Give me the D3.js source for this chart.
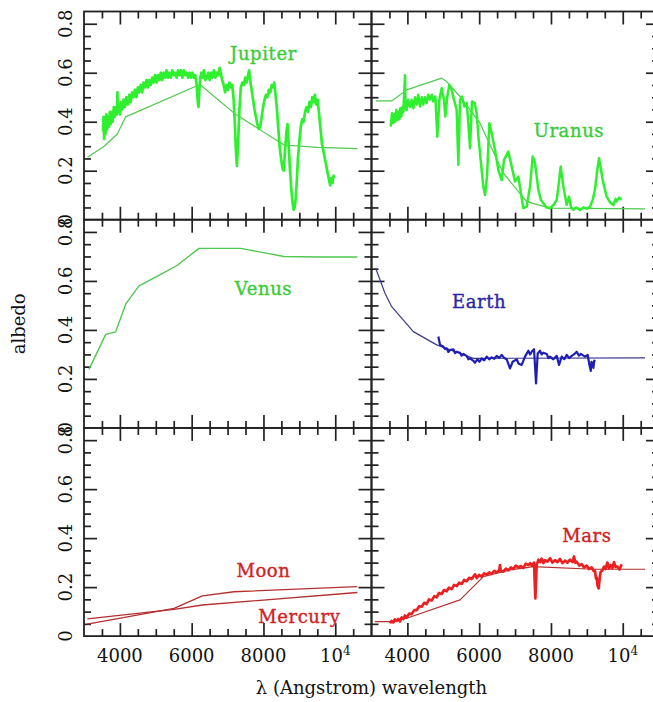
<!DOCTYPE html>
<html>
<head>
<meta charset="utf-8">
<script src="https://cdn.jsdelivr.net/npm/d3@7/dist/d3.min.js"></script>
<style>
body { margin: 0; background: #fff; }
svg text { font-family: "DejaVu Serif", serif; }
</style>
</head>
<body>
<script>
/* Spectra: [wavelength (Angstrom), albedo] */

var JUPITER_OBS = [[3530,0.36],[3545,0.42],[3560,0.33],[3580,0.41],[3600,0.35],[3620,0.43],[3645,0.37],[3670,0.42],[3695,0.38],[3720,0.44],[3745,0.39],[3770,0.44],[3800,0.40],[3830,0.46],[3860,0.42],[3890,0.46],[3915,0.43],[3930,0.52],[3945,0.44],[3970,0.47],[4000,0.43],[4030,0.48],[4060,0.45],[4100,0.49],[4140,0.46],[4180,0.50],[4220,0.47],[4260,0.51],[4300,0.48],[4340,0.52],[4380,0.50],[4420,0.53],[4460,0.50],[4500,0.54],[4540,0.52],[4580,0.55],[4620,0.52],[4660,0.56],[4700,0.54],[4740,0.57],[4780,0.54],[4820,0.57],[4860,0.55],[4900,0.58],[4940,0.56],[4980,0.59],[5020,0.56],[5060,0.59],[5100,0.57],[5140,0.60],[5180,0.57],[5220,0.60],[5260,0.58],[5300,0.61],[5340,0.58],[5380,0.60],[5420,0.58],[5460,0.61],[5500,0.59],[5540,0.60],[5580,0.58],[5620,0.61],[5660,0.59],[5700,0.61],[5740,0.58],[5780,0.61],[5820,0.59],[5860,0.60],[5900,0.58],[5940,0.60],[5980,0.58],[6020,0.60],[6060,0.58],[6100,0.59],[6140,0.55],[6170,0.48],[6190,0.46],[6210,0.52],[6240,0.58],[6270,0.60],[6300,0.58],[6340,0.61],[6380,0.57],[6420,0.58],[6460,0.60],[6500,0.57],[6540,0.60],[6580,0.58],[6620,0.61],[6660,0.58],[6700,0.60],[6740,0.59],[6780,0.62],[6810,0.60],[6850,0.57],[6890,0.55],[6930,0.52],[6970,0.55],[7010,0.53],[7050,0.56],[7090,0.54],[7130,0.55],[7170,0.49],[7200,0.40],[7230,0.29],[7260,0.22],[7290,0.30],[7330,0.45],[7370,0.54],[7410,0.56],[7450,0.55],[7490,0.58],[7530,0.56],[7570,0.59],[7600,0.61],[7630,0.57],[7670,0.53],[7710,0.49],[7750,0.45],[7790,0.42],[7830,0.39],[7870,0.37],[7910,0.38],[7950,0.42],[7990,0.46],[8030,0.49],[8070,0.51],[8110,0.50],[8150,0.53],[8190,0.52],[8230,0.55],[8270,0.54],[8300,0.56],[8330,0.52],[8370,0.46],[8410,0.38],[8450,0.30],[8490,0.25],[8530,0.21],[8565,0.20],[8600,0.28],[8640,0.36],[8670,0.39],[8700,0.31],[8740,0.20],[8780,0.12],[8810,0.07],[8840,0.04],[8870,0.05],[8900,0.09],[8930,0.16],[8960,0.25],[9000,0.32],[9040,0.38],[9080,0.41],[9120,0.40],[9160,0.44],[9200,0.46],[9240,0.44],[9280,0.48],[9320,0.46],[9360,0.50],[9400,0.48],[9430,0.51],[9470,0.47],[9510,0.49],[9550,0.43],[9590,0.37],[9630,0.31],[9670,0.28],[9710,0.25],[9750,0.22],[9790,0.19],[9830,0.16],[9860,0.14],[9890,0.17],[9920,0.15],[9950,0.18],[9970,0.17]];
var JUPITER_MODEL = [[3100,0.255],[3560,0.30],[3930,0.35],[4160,0.42],[6230,0.552],[7180,0.435],[8570,0.305],[9500,0.295],[10620,0.29]];

var URANUS_OBS = [[3534,0.38],[3571,0.435],[3608,0.394],[3640,0.43],[3664,0.40],[3690,0.448],[3720,0.408],[3750,0.44],[3776,0.41],[3800,0.455],[3831,0.421],[3860,0.46],[3887,0.44],[3933,0.59],[3950,0.45],[3980,0.448],[4020,0.49],[4073,0.46],[4120,0.49],[4166,0.455],[4210,0.50],[4259,0.47],[4300,0.51],[4351,0.462],[4400,0.50],[4444,0.47],[4490,0.50],[4537,0.476],[4580,0.51],[4630,0.49],[4680,0.51],[4723,0.483],[4779,0.503],[4834,0.339],[4890,0.489],[4955,0.537],[5020,0.489],[5057,0.421],[5113,0.503],[5169,0.551],[5234,0.53],[5299,0.489],[5373,0.448],[5420,0.224],[5466,0.489],[5522,0.503],[5587,0.462],[5652,0.476],[5698,0.394],[5745,0.292],[5800,0.483],[5875,0.476],[5930,0.435],[5986,0.326],[6060,0.217],[6116,0.135],[6163,0.101],[6218,0.176],[6283,0.394],[6348,0.353],[6441,0.285],[6534,0.203],[6627,0.162],[6692,0.244],[6813,0.278],[6906,0.217],[6999,0.156],[7091,0.176],[7156,0.115],[7231,0.047],[7324,0.053],[7416,0.135],[7491,0.258],[7556,0.231],[7649,0.122],[7720,0.08],[7788,0.067],[7880,0.05],[7974,0.047],[8070,0.06],[8160,0.081],[8220,0.15],[8271,0.217],[8345,0.135],[8438,0.06],[8503,0.094],[8560,0.05],[8623,0.04],[8700,0.05],[8809,0.04],[8900,0.05],[9000,0.045],[9087,0.053],[9160,0.08],[9226,0.122],[9280,0.19],[9338,0.251],[9390,0.21],[9440,0.162],[9551,0.094],[9650,0.07],[9737,0.06],[9800,0.085],[9830,0.075],[9900,0.09],[9969,0.083]];
var URANUS_MODEL = [[3125,0.485],[3562,0.485],[3980,0.53],[4955,0.578],[5094,0.564],[5466,0.503],[6023,0.394],[6673,0.19],[7323,0.074],[7974,0.047],[10621,0.044]];

var VENUS_MODEL = [[3139,0.239],[3604,0.382],[3882,0.392],[4161,0.505],[4533,0.58],[5229,0.634],[5601,0.664],[6204,0.733],[7365,0.733],[8573,0.70],[9502,0.698],[10616,0.698]];

var EARTH_OBS = [[4862,0.373],[4909,0.339],[5002,0.332],[5050,0.322],[5094,0.325],[5140,0.31],[5187,0.318],[5280,0.321],[5330,0.305],[5373,0.311],[5466,0.307],[5510,0.295],[5559,0.302],[5652,0.294],[5700,0.28],[5745,0.284],[5838,0.274],[5884,0.266],[5949,0.28],[6010,0.27],[6070,0.284],[6140,0.276],[6209,0.291],[6280,0.28],[6348,0.288],[6420,0.282],[6488,0.294],[6560,0.286],[6627,0.298],[6700,0.285],[6766,0.28],[6859,0.243],[6934,0.27],[7045,0.28],[7100,0.262],[7184,0.257],[7277,0.291],[7370,0.315],[7420,0.30],[7463,0.311],[7528,0.321],[7584,0.182],[7630,0.304],[7695,0.315],[7740,0.30],[7788,0.307],[7881,0.302],[7930,0.285],[7974,0.291],[8067,0.28],[8160,0.294],[8225,0.257],[8299,0.291],[8370,0.28],[8439,0.298],[8510,0.285],[8578,0.294],[8640,0.30],[8717,0.311],[8780,0.295],[8829,0.302],[8950,0.291],[9023,0.298],[9072,0.257],[9109,0.233],[9130,0.27],[9155,0.264],[9183,0.245],[9205,0.275],[9230,0.27]];
var EARTH_MODEL = [[3116,0.652],[3376,0.55],[3562,0.495],[4166,0.393],[4816,0.339],[5838,0.284],[10621,0.286]];

var MOON_MODEL = [[3093,0.049],[5508,0.113],[6297,0.164],[7180,0.181],[10616,0.202]];
var MERCURY_MODEL = [[3093,0.07],[5508,0.109],[6297,0.127],[10616,0.178]];

var MARS_OBS = [[3515,0.052],[3560,0.062],[3608,0.056],[3650,0.068],[3701,0.062],[3750,0.07],[3794,0.06],[3840,0.076],[3887,0.07],[3930,0.084],[3980,0.076],[4050,0.092],[4119,0.09],[4190,0.106],[4258,0.106],[4330,0.122],[4398,0.12],[4470,0.136],[4537,0.131],[4600,0.15],[4676,0.145],[4750,0.163],[4816,0.158],[4880,0.176],[4955,0.172],[5020,0.188],[5094,0.183],[5160,0.198],[5234,0.192],[5300,0.209],[5373,0.204],[5440,0.218],[5512,0.213],[5580,0.229],[5652,0.224],[5720,0.238],[5791,0.233],[5884,0.252],[5930,0.237],[6000,0.25],[6070,0.243],[6140,0.256],[6209,0.251],[6280,0.26],[6348,0.254],[6420,0.266],[6488,0.26],[6560,0.27],[6580,0.29],[6600,0.268],[6674,0.263],[6740,0.275],[6813,0.268],[6880,0.28],[6952,0.274],[7020,0.288],[7091,0.281],[7160,0.286],[7231,0.278],[7300,0.296],[7370,0.29],[7420,0.298],[7463,0.288],[7528,0.3],[7565,0.154],[7602,0.29],[7650,0.312],[7695,0.302],[7740,0.316],[7790,0.298],[7834,0.31],[7900,0.304],[7974,0.318],[8040,0.3],[8113,0.31],[8180,0.302],[8252,0.315],[8320,0.298],[8391,0.308],[8460,0.3],[8530,0.312],[8600,0.302],[8641,0.325],[8680,0.3],[8716,0.304],[8790,0.288],[8856,0.294],[8920,0.28],[8995,0.288],[9060,0.274],[9134,0.28],[9190,0.265],[9227,0.266],[9255,0.235],[9274,0.24],[9300,0.205],[9330,0.195],[9360,0.24],[9385,0.262],[9430,0.268],[9478,0.284],[9520,0.274],[9571,0.3],[9620,0.276],[9664,0.29],[9710,0.278],[9757,0.302],[9800,0.282],[9850,0.284],[9910,0.272],[9969,0.293]];
var MARS_MODEL = [[3098,0.059],[3562,0.059],[3980,0.073],[5466,0.148],[6116,0.243],[6859,0.27],[7509,0.284],[9181,0.273],[10621,0.273]];

/* Axes */

var X_DOMAIN = [3000, 11010],
    Y_DOMAIN = [0, 0.85];
var X_MAJOR = [4000, 6000, 8000, 10000],
    X_MINOR = [3500, 4500, 5000, 5500, 6500, 7000, 7500, 8500, 9000, 9500, 10500],
    Y_MAJOR = [0.2, 0.4, 0.6, 0.8],
    Y_MINOR = [0.05, 0.1, 0.15, 0.25, 0.3, 0.35, 0.45, 0.5, 0.55, 0.65, 0.7, 0.75];
var X_LABELS = ["4000", "6000", "8000", "10"],
    Y_LABELS = ["0", "0.2", "0.4", "0.6", "0.8"],
    Y_LABEL_VALUES = [0, 0.2, 0.4, 0.6, 0.8];

/* Colours */

var GREEN_OBS = "#2ef02e", GREEN_MODEL = "#50c850", GREEN_TEXT = "#38cc38",
    BLUE_OBS = "#1e1eb4", BLUE_MODEL = "#3a3a8e", BLUE_TEXT = "#2626a6",
    RED_OBS = "#ec2020", RED_MODEL = "#b33030", RED_TEXT = "#d02222",
    AXIS_COLOR = "#222";

/* Panels */

var PANELS = [
	{col: 0, row: 0, label: "Jupiter", at: [8000, 0.65],  text: GREEN_TEXT,
	 series: [{data: JUPITER_MODEL, color: GREEN_MODEL, width: 1.2}, {data: JUPITER_OBS, color: GREEN_OBS, width: 2.7}]},
	{col: 1, row: 0, label: "Uranus",  at: [8500, 0.338], text: GREEN_TEXT,
	 series: [{data: URANUS_MODEL, color: GREEN_MODEL, width: 1.2}, {data: URANUS_OBS, color: GREEN_OBS, width: 2.5}]},
	{col: 0, row: 1, label: "Venus",   at: [8000, 0.543], text: GREEN_TEXT,
	 series: [{data: VENUS_MODEL, color: GREEN_MODEL, width: 1.4}]},
	{col: 1, row: 1, label: "Earth",   at: [6000, 0.49],  text: BLUE_TEXT,
	 series: [{data: EARTH_MODEL, color: BLUE_MODEL, width: 1.2}, {data: EARTH_OBS, color: BLUE_OBS, width: 2.2}]},
	{col: 0, row: 2, label: "Moon",    at: [8000, 0.2415], text: RED_TEXT,
	 series: [{data: MOON_MODEL, color: RED_MODEL, width: 1.3}, {data: MERCURY_MODEL, color: RED_MODEL, width: 1.3}]},
	{col: 0, row: 2, label: "Mercury", at: [9000, 0.054], text: RED_TEXT, series: []},
	{col: 1, row: 2, label: "Mars",    at: [9000, 0.385], text: RED_TEXT,
	 series: [{data: MARS_MODEL, color: RED_MODEL, width: 1.2}, {data: MARS_OBS, color: RED_OBS, width: 2.7}]}
];

/* Measures */

var W = 653,
    H = 702;

var LEFT    = 84,
    TOP     = 11.5,
    PANEL_W = 287.5,
    PANEL_H = 208.2;

var MAJOR_TICK = 13,
    MINOR_TICK = 7,
    FONT_SIZE  = 18;

var svg = d3.select("body").append("svg")
	.attr("width", W)
	.attr("height", H);

var x = d3.scaleLinear().domain(X_DOMAIN).range([0, PANEL_W]),
    y = d3.scaleLinear().domain(Y_DOMAIN).range([PANEL_H, 0]);

var line = d3.line()
	.x(function(d) { return x(d[0]); })
	.y(function(d) { return y(d[1]); });

function addTicks(g, axisFn, scale, values, size, transform) {
	g.append("g")
		.attr("transform", transform)
		.attr("color", AXIS_COLOR)
		.call(axisFn(scale).tickValues(values).tickSize(-size).tickSizeOuter(0).tickFormat(""))
		.call(function(a) {
			a.select(".domain").remove();
			a.selectAll("line").attr("stroke-width", 1.7);
		});
}

function addFrame(col, row) {
	var g = svg.append("g")
		.attr("transform", "translate(" + (LEFT + col * PANEL_W) + "," + (TOP + row * PANEL_H) + ")");

	[[X_MAJOR, MAJOR_TICK], [X_MINOR, MINOR_TICK]].forEach(function(t) {
		addTicks(g, d3.axisBottom, x, t[0], t[1], "translate(0," + PANEL_H + ")");
		addTicks(g, d3.axisTop, x, t[0], t[1], "translate(0,0)");
	});
	[[Y_MAJOR, MAJOR_TICK], [Y_MINOR, MINOR_TICK]].forEach(function(t) {
		addTicks(g, d3.axisLeft, y, t[0], t[1], "translate(0,0)");
		addTicks(g, d3.axisRight, y, t[0], t[1], "translate(" + PANEL_W + ",0)");
	});

	g.append("rect")
		.attr("width", PANEL_W)
		.attr("height", PANEL_H)
		.attr("fill", "none")
		.attr("stroke", AXIS_COLOR)
		.attr("stroke-width", 1.8);

	if (col === 0) {
		g.selectAll("text.ylab")
			.data(Y_LABEL_VALUES)
			.enter().append("text")
			.attr("class", "ylab")
			.attr("transform", function(d) { return "translate(-12," + y(d) + ") rotate(-90)"; })
			.attr("text-anchor", "middle")
			.attr("font-size", FONT_SIZE)
			.attr("fill", "#111")
			.text(function(d, i) { return Y_LABELS[i]; });
	}

	if (row === 2) {
		var xl = g.selectAll("text.xlab")
			.data(X_MAJOR)
			.enter().append("text")
			.attr("class", "xlab")
			.attr("x", function(d) { return x(d); })
			.attr("y", PANEL_H + 25.6)
			.attr("text-anchor", "middle")
			.attr("font-size", FONT_SIZE)
			.attr("fill", "#111")
			.text(function(d, i) { return X_LABELS[i]; });
		xl.filter(function(d) { return d === 10000; })
			.append("tspan")
			.attr("dy", -7)
			.attr("font-size", 12)
			.text("4");
	}
	return g;
}

var frames = {};
[[0, 0], [1, 0], [0, 1], [1, 1], [0, 2], [1, 2]].forEach(function(p) {
	frames[p[0] + "_" + p[1]] = addFrame(p[0], p[1]);
});

PANELS.forEach(function(p) {
	var g = frames[p.col + "_" + p.row];
	p.series.forEach(function(s) {
		g.append("path")
			.datum(s.data)
			.attr("d", line)
			.attr("fill", "none")
			.attr("stroke", s.color)
			.attr("stroke-width", s.width)
			.attr("stroke-linejoin", "round");
	});
	g.append("text")
		.attr("x", x(p.at[0]))
		.attr("y", y(p.at[1]))
		.attr("text-anchor", "middle")
		.attr("font-size", FONT_SIZE)
		.attr("letter-spacing", 0.6)
		.attr("fill", p.text)
		.attr("stroke", p.text)
		.attr("stroke-width", 0.35)
		.text(p.label);
});

/* Axis titles */

svg.append("text")
	.attr("x", LEFT + PANEL_W)
	.attr("y", 694)
	.attr("text-anchor", "middle")
	.attr("font-size", FONT_SIZE)
	.attr("fill", "#111")
	.text("\u03bb (Angstrom) wavelength");

svg.append("text")
	.attr("transform", "translate(25," + (TOP + 1.5 * PANEL_H) + ") rotate(-90)")
	.attr("text-anchor", "middle")
	.attr("font-size", FONT_SIZE)
	.attr("fill", "#111")
	.text("albedo");
</script>
</body>
</html>
